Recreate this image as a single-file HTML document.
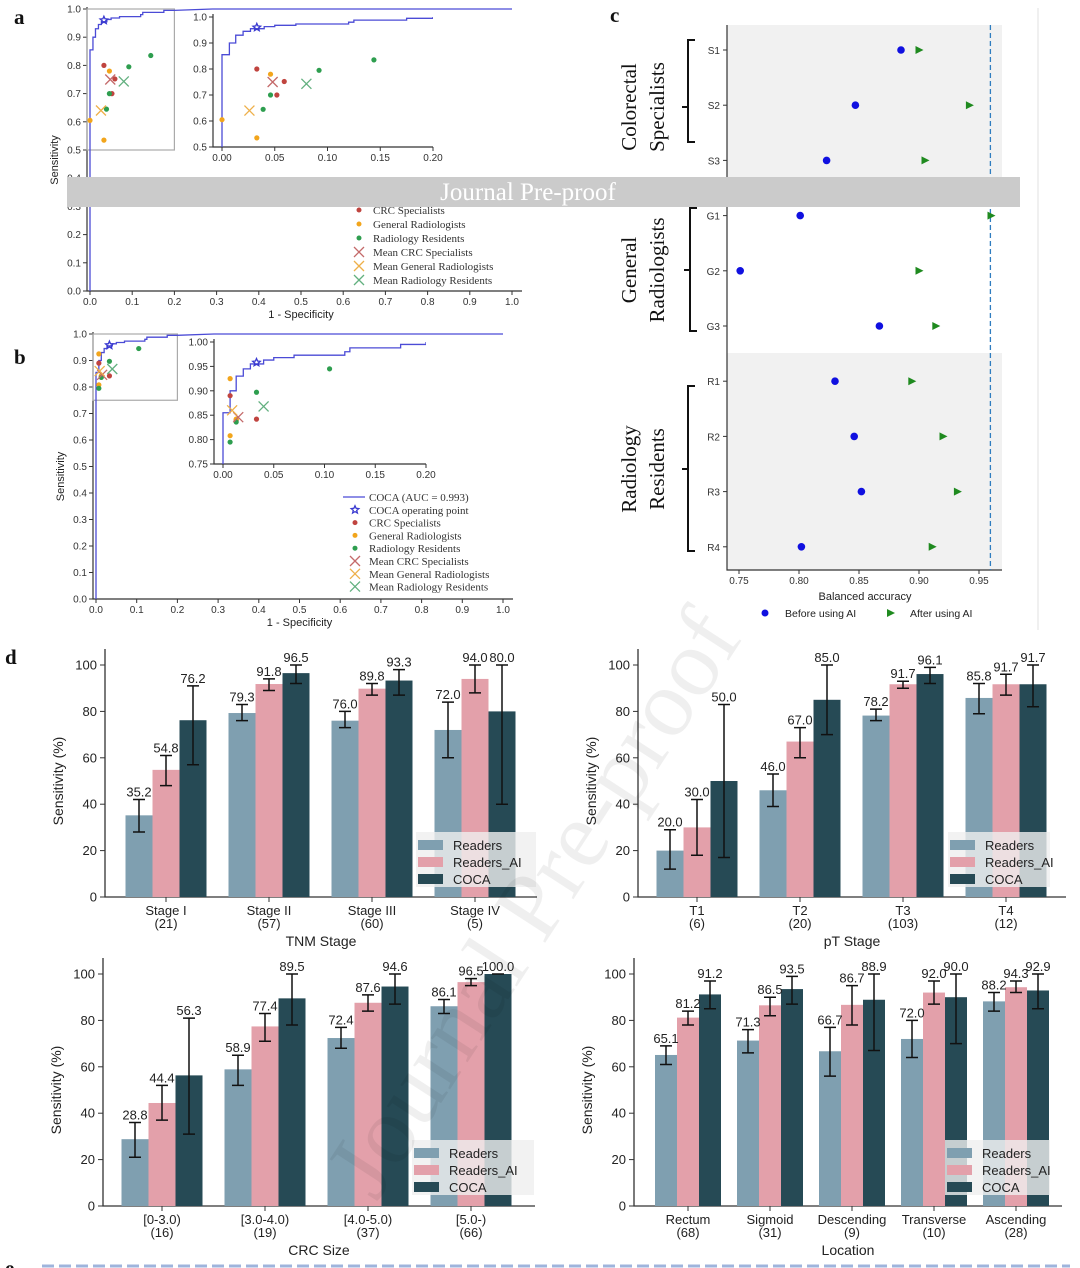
<!DOCTYPE html>
<html><head><meta charset="utf-8">
<style>
html,body{margin:0;padding:0;background:#fff;}
svg{display:block;font-family:"Liberation Sans","DejaVu Sans",sans-serif;}
.serif{font-family:"Liberation Serif",serif;}
</style></head>
<body>
<svg id="fig" width="1080" height="1268" viewBox="0 0 1080 1268" xmlns="http://www.w3.org/2000/svg">
<g id="root"></g>
</svg>
<script>
// ---------- DATA ----------
const rocFpr = [0,0,0.007,0.007,0.013,0.013,0.02,0.02,0.027,0.027,0.04,0.04,0.05,0.05,0.07,0.07,0.12,0.12,0.125,0.125,0.175,0.175,0.2,0.29,1.0];
const rocTpr = [0,0.855,0.855,0.9,0.9,0.93,0.93,0.945,0.945,0.955,0.955,0.963,0.963,0.968,0.968,0.973,0.973,0.98,0.98,0.988,0.988,0.995,0.995,1.0,1.0];
const aOpPoint = [0.033,0.96];
const aCrcX = [0.033,0.059,0.052], aCrcY = [0.80,0.752,0.70];
const aGrX = [0,0.046,0.033], aGrY = [0.605,0.78,0.535];
const aRrX = [0.144,0.092,0.046,0.039], aRrY = [0.835,0.795,0.70,0.645];
const aMeanX = [0.048,0.026,0.08], aMeanY = [0.75,0.64,0.743];
const bOpPoint = [0.033,0.958];
const bCrcX = [0.007,0.033,0.013], bCrcY = [0.89,0.842,0.84];
const bGrX = [0.007,0.007,0.013], bGrY = [0.925,0.808,0.842];
const bRrX = [0.105,0.033,0.013,0.007], bRrY = [0.945,0.897,0.836,0.795];
const bMeanX = [0.015,0.009,0.04], bMeanY = [0.846,0.86,0.868];
const rocTicks = [0,0.1,0.2,0.3,0.4,0.5,0.6,0.7,0.8,0.9,1.0];

const cReaders = ["S1","S2","S3","G1","G2","G3","R1","R2","R3","R4"];
const cBefore = [0.885,0.847,0.823,0.801,0.751,0.867,0.83,0.846,0.852,0.802];
const cAfter = [0.90,0.942,0.905,0.96,0.90,0.914,0.894,0.92,0.932,0.911];
const cCoca = [0.9595];
const cTicks = [0.75,0.80,0.85,0.90,0.95];

const seriesNames = ["Readers","Readers_AI","COCA"];
const d1Cats = [["Stage I","(21)"],["Stage II","(57)"],["Stage III","(60)"],["Stage IV","(5)"]];
const d1Readers = [35.2,79.3,76.0,72.0], d1ReadersLo=[28,76,73,60], d1ReadersHi=[42,83,80,84];
const d1Ai = [54.8,91.8,89.8,94.0], d1AiLo=[48,89,87,88], d1AiHi=[61,94,92,100];
const d1Coca = [76.2,96.5,93.3,80.0], d1CocaLo=[57,92,87,40], d1CocaHi=[91,100,98,100];
const d2Cats = [["T1","(6)"],["T2","(20)"],["T3","(103)"],["T4","(12)"]];
const d2Readers = [20.0,46.0,78.2,85.8], d2ReadersLo=[12,39,76,79], d2ReadersHi=[29,53,81,92];
const d2Ai = [30.0,67.0,91.7,91.7], d2AiLo=[18,60,90,87], d2AiHi=[42,73,93,96];
const d2Coca = [50.0,85.0,96.1,91.7], d2CocaLo=[17,70,92,82], d2CocaHi=[83,100,99,100];
const d3Cats = [["[0-3.0)","(16)"],["[3.0-4.0)","(19)"],["[4.0-5.0)","(37)"],["[5.0-)","(66)"]];
const d3Readers = [28.8,58.9,72.4,86.1], d3ReadersLo=[21,52,68,83], d3ReadersHi=[36,65,77,89];
const d3Ai = [44.4,77.4,87.6,96.5], d3AiLo=[37,71,84,95], d3AiHi=[52,83,91,98];
const d3Coca = [56.3,89.5,94.6,100.0], d3CocaLo=[31,78,87,100], d3CocaHi=[81,100,100,100];
const d4Cats = [["Rectum","(68)"],["Sigmoid","(31)"],["Descending","(9)"],["Transverse","(10)"],["Ascending","(28)"]];
const d4Readers = [65.1,71.3,66.7,72.0,88.2], d4ReadersLo=[61,66,56,64,84], d4ReadersHi=[69,76,77,80,92];
const d4Ai = [81.2,86.5,86.7,92.0,94.3], d4AiLo=[78,82,78,87,92], d4AiHi=[84,90,95,97,97];
const d4Coca = [91.2,93.5,88.9,90.0,92.9], d4CocaLo=[85,87,67,70,85], d4CocaHi=[97,99,100,100,100];
const barTicks = [0,20,40,60,80,100];

// ---------- HELPERS ----------
const NS="http://www.w3.org/2000/svg";
const root=document.getElementById('root');
function mk(tag, attrs, parent){
  const e=document.createElementNS(NS,tag);
  for(const k in attrs) e.setAttribute(k,attrs[k]);
  (parent||root).appendChild(e);
  return e;
}
function txt(s, attrs, parent){ const e=mk('text',attrs,parent); e.textContent=s; return e; }
function lin(d0,d1,r0,r1){ return v=>r0+(v-d0)*(r1-r0)/(d1-d0); }

// ---------- ROC PANEL ----------
function rocPanel(p){
  const g=mk('g',{});
  
  
  const X=lin(0,1,p.x0,p.x1), Y=lin(0,1,p.y0,p.y1);
  let s=mk('path',{d:`M${p.x0-3},${p.y1-2}V${p.y0}H${p.x1+10}`,fill:'none',stroke:'#333','stroke-width':1.2},g);
  
  
  rocTicks.forEach(t=>{
    let tk=mk('line',{x1:X(t),x2:X(t),y1:p.y0,y2:p.y0+4,stroke:'#333'},g);
    
    
    let l=txt(t.toFixed(1),{x:X(t),y:p.y0+14,'font-size':10,'text-anchor':'middle',fill:'#333'},g);
    
    
    let ty=mk('line',{x1:p.x0-7,x2:p.x0-3,y1:Y(t),y2:Y(t),stroke:'#333'},g);
    
    
    let ly=txt(t.toFixed(1),{x:p.x0-9,y:Y(t)+3.5,'font-size':10,'text-anchor':'end',fill:'#333'},g);
    
    
  });
  let xt=txt('1 - Specificity',{x:(p.x0+p.x1)/2,y:p.y0+27,'font-size':11,'text-anchor':'middle',fill:'#222'},g);
  
  
  let yt=txt('Sensitivity',{x:0,y:0,'font-size':11,'text-anchor':'middle',fill:'#222',transform:`translate(${p.x0-32},${(p.y0+p.y1)/2+10}) rotate(-90)`},g);
  
  
  let zb=mk('rect',{x:X(0)-3,y:Y(1),width:X(0.2)-X(0)+3,height:Y(p.boxMin)-Y(1),fill:'none',stroke:'#aaa','stroke-width':1.2},g);
  
  
  let d=rocFpr.map((f,i)=>(i?'L':'M')+X(f)+','+Y(rocTpr[i])).join('');
  let c=mk('path',{d,fill:'none',stroke:'#4b4bd6','stroke-width':1.3},g);
  
  
  drawPoints(g,X,Y,p.data,4.5,7);
  const IX=lin(0,0.2,p.ix0,p.ix1), IY=lin(p.boxMin,1,p.iy0,p.iy1);
  const ig=mk('g',{},g);
  
  
  mk('rect',{x:p.ix0-12,y:p.iy1-4,width:p.ix1-p.ix0+40,height:p.iy0-p.iy1+8,fill:'#fff'},ig);
  let is=mk('path',{d:`M${p.ix0-9},${p.iy1-3}V${p.iy0}H${p.ix1}`,fill:'none',stroke:'#333','stroke-width':1.2},ig);
  
  
  [0,0.05,0.1,0.15,0.2].forEach(t=>{
    mk('line',{x1:IX(t),x2:IX(t),y1:p.iy0,y2:p.iy0+4,stroke:'#333'},ig);
    let l=txt(t.toFixed(2),{x:IX(t),y:p.iy0+14,'font-size':10,'text-anchor':'middle',fill:'#333'},ig);
    
    
  });
  p.iTicks.forEach(t=>{
    mk('line',{x1:p.ix0-13,x2:p.ix0-9,y1:IY(t),y2:IY(t),stroke:'#333'},ig);
    let l=txt(t.toFixed(p.iDec),{x:p.ix0-15,y:IY(t)+3.5,'font-size':10,'text-anchor':'end',fill:'#333'},ig);
    
    
  });
  const clip=mk('clipPath',{id:p.name+'-clip'},ig);
  mk('rect',{x:p.ix0-9,y:p.iy1-3,width:p.ix1-p.ix0+9,height:p.iy0-p.iy1+3},clip);
  let di=rocFpr.map((f,i)=>(i?'L':'M')+IX(Math.min(f,0.2))+','+IY(Math.max(rocTpr[i],p.boxMin))).join('');
  let ic=mk('path',{d:di,fill:'none',stroke:'#4b4bd6','stroke-width':1.3,'clip-path':`url(#${p.name}-clip)`},ig);
  
  
  drawPoints(ig,IX,IY,p.data,4.5,7);
  const lg=mk('g',{},g);
  
  
  const items=[['line','#4b4bd6','COCA (AUC = 0.993)'],['star','#3a3ad0','COCA operating point'],['dot','#c0443f','CRC Specialists'],['dot','#f2a51c','General Radiologists'],['dot','#2e9e4f','Radiology Residents'],['x','#c46a6a','Mean CRC Specialists'],['x','#eeb04a','Mean General Radiologists'],['x','#62b07f','Mean Radiology Residents']];
  items.forEach((it,i)=>{
    const y=p.ly+i*p.lstep, mx=p.lx;
    if(it[0]=='line') mk('line',{x1:mx-12,x2:mx+10,y1:y,y2:y,stroke:it[1],'stroke-width':1.3},lg);
    else if(it[0]=='star') star(lg,mx,y,4,it[1]);
    else if(it[0]=='dot') mk('circle',{cx:mx,cy:y,r:2.5,fill:it[1]},lg);
    else cross(lg,mx,y,5,it[1]);
    let t=txt(it[2],{x:mx+14,y:y+4,'font-size':11,fill:'#333',class:'serif'},lg);
    
    
  });
}
function star(g,x,y,r,c){
  let pts=[];for(let i=0;i<10;i++){const a=-Math.PI/2+i*Math.PI/5,rr=i%2?r*0.45:r;pts.push((x+rr*Math.cos(a)).toFixed(1)+','+(y+rr*Math.sin(a)).toFixed(1));}
  let s=mk('polygon',{points:pts.join(' '),fill:'none',stroke:c,'stroke-width':1.3},g);
  
  
}
function cross(g,x,y,r,c){
  let p=mk('path',{d:`M${x-r},${y-r}L${x+r},${y+r}M${x-r},${y+r}L${x+r},${y-r}`,stroke:c,'stroke-width':1.3,fill:'none'},g);
  
  
}
function drawPoints(g,X,Y,D,r,cr){
  const groups=[[D.crcX,D.crcY,'#c0443f'],[D.grX,D.grY,'#f2a51c'],[D.rrX,D.rrY,'#2e9e4f']];
  groups.forEach(gr=>gr[0].forEach((v,i)=>{
    let c=mk('circle',{cx:X(v),cy:Y(gr[1][i]),r:2.6,fill:gr[2]},g);
    
    
  }));
  const mc=['#c46a6a','#eeb04a','#62b07f'];
  D.meanX.forEach((v,i)=>cross(g,X(v),Y(D.meanY[i]),5,mc[i]));
  star(g,X(D.op[0]),Y(D.op[1]),4,'#3a3ad0');
}
rocPanel({name:'panel-a-roc',x0:90,x1:512,y0:291,y1:9,boxMin:0.5,ix0:222,ix1:433,iy0:147,iy1:17,iTicks:[0.5,0.6,0.7,0.8,0.9,1.0],iDec:1,
  data:{crcX:aCrcX,crcY:aCrcY,grX:aGrX,grY:aGrY,rrX:aRrX,rrY:aRrY,meanX:aMeanX,meanY:aMeanY,op:aOpPoint},lx:359,ly:182,lstep:14});
rocPanel({name:'panel-b-roc',x0:96,x1:503,y0:599,y1:334,boxMin:0.75,ix0:223,ix1:426,iy0:464,iy1:342,iTicks:[0.75,0.8,0.85,0.9,0.95,1.0],iDec:2,
  data:{crcX:bCrcX,crcY:bCrcY,grX:bGrX,grY:bGrY,rrX:bRrX,rrY:bRrY,meanX:bMeanX,meanY:bMeanY,op:bOpPoint},lx:355,ly:497,lstep:12.8});

// ---------- PANEL C ----------
(function(){
  const g=mk('g',{});
  
  
  const X=lin(0.75,0.95,739,979), top=25, bot=570;
  const Y=i=>50+i*55.2;
  let b1=mk('rect',{x:727,y:top,width:275,height:165,fill:'#f1f1f1'},g);
  
  
  let b3=mk('rect',{x:727,y:353,width:275,height:bot-353,fill:'#f1f1f1'},g);
  
  
  let ax=mk('path',{d:`M727,${top}V${bot}H1002`,fill:'none',stroke:'#333','stroke-width':1.2},g);
  
  
  cTicks.forEach(t=>{
    mk('line',{x1:X(t),x2:X(t),y1:bot,y2:bot+4,stroke:'#333'},g);
    let l=txt(t.toFixed(2),{x:X(t),y:bot+14,'font-size':10,'text-anchor':'middle',fill:'#333'},g);
    
    
  });
  let dl=mk('line',{x1:X(cCoca[0]),x2:X(cCoca[0]),y1:top,y2:bot,stroke:'#2f7dc0','stroke-width':1.3,'stroke-dasharray':'5,3'},g);
  
  
  cReaders.forEach((r,i)=>{
    mk('line',{x1:723,x2:727,y1:Y(i),y2:Y(i),stroke:'#333'},g);
    let l=txt(r,{x:720,y:Y(i)+4,'font-size':10,'text-anchor':'end',fill:'#333'},g);
    
    
    let c=mk('circle',{cx:X(cBefore[i]),cy:Y(i),r:3.8,fill:'#1010e0'},g);
    
    
    const ax2=X(cAfter[i]),ay=Y(i);
    let t=mk('polygon',{points:`${ax2-3.5},${ay-4} ${ax2+4.5},${ay} ${ax2-3.5},${ay+4}`,fill:'#1f8a1f'},g);
    
    
  });
  let xl=txt('Balanced accuracy',{x:865,y:600,'font-size':11,'text-anchor':'middle',fill:'#222'},g);
  
  
  mk('circle',{cx:765,cy:613,r:3.5,fill:'#1010e0'},g);
  let l1=txt('Before using AI',{x:785,y:617,'font-size':10.5,fill:'#222'},g);
  
  
  mk('polygon',{points:'887,609 895,613 887,617',fill:'#1f8a1f'},g);
  let l2=txt('After using AI',{x:910,y:617,'font-size':10.5,fill:'#222'},g);
  
  
  const br=[[688,40,142,107,'Colorectal','Specialists'],[690,208,331,270,'General','Radiologists'],[688,386,551,469,'Radiology','Residents']];
  br.forEach(b=>{
    let p=mk('path',{d:`M${b[0]+7},${b[1]}H${b[0]}V${b[2]}H${b[0]+7}M${b[0]},${b[3]}H${b[0]-6}`,fill:'none',stroke:'#111','stroke-width':2},g);
    
    
    let t1=txt(b[4],{x:0,y:0,'font-size':21,'text-anchor':'middle',fill:'#111',class:'serif',transform:`translate(636,${b[3]}) rotate(-90)`},g);
    
    
    let t2=txt(b[5],{x:0,y:0,'font-size':21,'text-anchor':'middle',fill:'#111',class:'serif',transform:`translate(664,${b[3]}) rotate(-90)`},g);
    
    
  });
})();

// ---------- PANEL D BARS ----------
const barColors=['#7f9fb0','#e3a0aa','#264a55'];
function barChart(cfg){
  const g=mk('g',{});
  
  
  const Y=lin(0,100,cfg.y0,cfg.y0-232);
  const bw=cfg.bw;
  const cx=i=>cfg.c0+i*cfg.step;
  let ax=mk('path',{d:`M${cfg.left},${cfg.y0-248}V${cfg.y0}H${cfg.right}`,fill:'none',stroke:'#333','stroke-width':1.3},g);
  
  
  barTicks.forEach(t=>{
    mk('line',{x1:cfg.left-5,x2:cfg.left,y1:Y(t),y2:Y(t),stroke:'#333'},g);
    let l=txt(String(t),{x:cfg.left-8,y:Y(t)+4.5,'font-size':13,'text-anchor':'end',fill:'#222'},g);
    
    
  });
  let yt=txt('Sensitivity (%)',{x:0,y:0,'font-size':14,'text-anchor':'middle',fill:'#222',transform:`translate(${cfg.left-42},${cfg.y0-116}) rotate(-90)`},g);
  
  
  const vals=[cfg.r,cfg.a,cfg.c], lo=[cfg.rl,cfg.al,cfg.cl], hi=[cfg.rh,cfg.ah,cfg.ch];
  cfg.cats.forEach((cat,i)=>{
    mk('line',{x1:cx(i),x2:cx(i),y1:cfg.y0,y2:cfg.y0+5,stroke:'#333'},g);
    let l1=txt(cat[0],{x:cx(i),y:cfg.y0+18,'font-size':13,'text-anchor':'middle',fill:'#222'},g);
    
    
    let l2=txt(cat[1],{x:cx(i),y:cfg.y0+31,'font-size':13,'text-anchor':'middle',fill:'#222'},g);
    
    
    for(let s=0;s<3;s++){
      const x=cx(i)+(s-1.5)*bw, v=vals[s][i];
      let r=mk('rect',{x:x,y:Y(v),width:bw,height:Y(0)-Y(v),fill:barColors[s]},g);
      
      
    }
  });
  const lg=mk('g',{},g);
  
  
  mk('rect',{x:cfg.lx,y:cfg.ly-8,width:cfg.lw,height:55,fill:'#efefef',opacity:0.8},lg);
  seriesNames.forEach((n,s)=>{
    mk('rect',{x:cfg.lx+2,y:cfg.ly+s*17,width:25,height:10,fill:barColors[s]},lg);
    let t=txt(n,{x:cfg.lx+37,y:cfg.ly+s*17+10,'font-size':13,fill:'#222'},lg);
    
    
  });
  cfg.cats.forEach((cat,i)=>{
    for(let s=0;s<3;s++){
      const x=cx(i)+(s-1)*bw, l=lo[s][i], h=hi[s][i];
      let e=mk('path',{d:`M${x},${Y(l)}V${Y(h)}M${x-6},${Y(l)}H${x+6}M${x-6},${Y(h)}H${x+6}`,stroke:'#111','stroke-width':1.5,fill:'none'},g);
      
      
      let t=txt(vals[s][i].toFixed(1),{x:x,y:Y(h)-3,'font-size':13,'text-anchor':'middle',fill:'#222'},g);
      
      
    }
  });
  let xt=txt(cfg.title,{x:(cfg.left+cfg.right)/2,y:cfg.y0+49,'font-size':14,'text-anchor':'middle',fill:'#222'},g);
  
  
}
barChart({name:'bar-chart-tnm-stage',left:105,right:537,y0:897,c0:166,step:103,bw:27,cats:d1Cats,r:d1Readers,rl:d1ReadersLo,rh:d1ReadersHi,a:d1Ai,al:d1AiLo,ah:d1AiHi,c:d1Coca,cl:d1CocaLo,ch:d1CocaHi,title:'TNM Stage',lx:416,ly:840,lw:120});
barChart({name:'bar-chart-pt-stage',left:638,right:1066,y0:897,c0:697,step:103,bw:27,cats:d2Cats,r:d2Readers,rl:d2ReadersLo,rh:d2ReadersHi,a:d2Ai,al:d2AiLo,ah:d2AiHi,c:d2Coca,cl:d2CocaLo,ch:d2CocaHi,title:'pT Stage',lx:948,ly:840,lw:102});
barChart({name:'bar-chart-crc-size',left:103,right:535,y0:1206,c0:162,step:103,bw:27,cats:d3Cats,r:d3Readers,rl:d3ReadersLo,rh:d3ReadersHi,a:d3Ai,al:d3AiLo,ah:d3AiHi,c:d3Coca,cl:d3CocaLo,ch:d3CocaHi,title:'CRC Size',lx:412,ly:1148,lw:122});
barChart({name:'bar-chart-location',left:634,right:1062,y0:1206,c0:688,step:82,bw:22,cats:d4Cats,r:d4Readers,rl:d4ReadersLo,rh:d4ReadersHi,a:d4Ai,al:d4AiLo,ah:d4AiHi,c:d4Coca,cl:d4CocaLo,ch:d4CocaHi,title:'Location',lx:945,ly:1148,lw:105});

// ---------- DECOR ----------
let vl=mk('line',{x1:1038,x2:1038,y1:8,y2:630,stroke:'#e6e6e6','stroke-width':1.2});


[['a',14,24],['b',14,364],['c',610,22],['d',5,664],['e',5,1275]].forEach(l=>{
  let t=txt(l[0],{x:l[1],y:l[2],'font-size':21,'font-weight':'bold',fill:'#111',class:'serif'});
  
  
});
let wm=txt('Journal Pre-proof',{x:0,y:0,'font-size':96,'text-anchor':'middle',fill:'#000',opacity:0.06,class:'serif',transform:'translate(560,920) rotate(-57)'});


let bn=mk('rect',{x:67,y:177,width:953,height:30,fill:'#cbcbcb'});


let bt=txt('Journal Pre-proof',{x:528,y:200,'font-size':25,'text-anchor':'middle',fill:'#fff',class:'serif'});


let dash=mk('line',{x1:42,x2:1070,y1:1266,y2:1266,stroke:'#9fb4dc','stroke-width':3,'stroke-dasharray':'12,5'});


</script>
</body></html>
